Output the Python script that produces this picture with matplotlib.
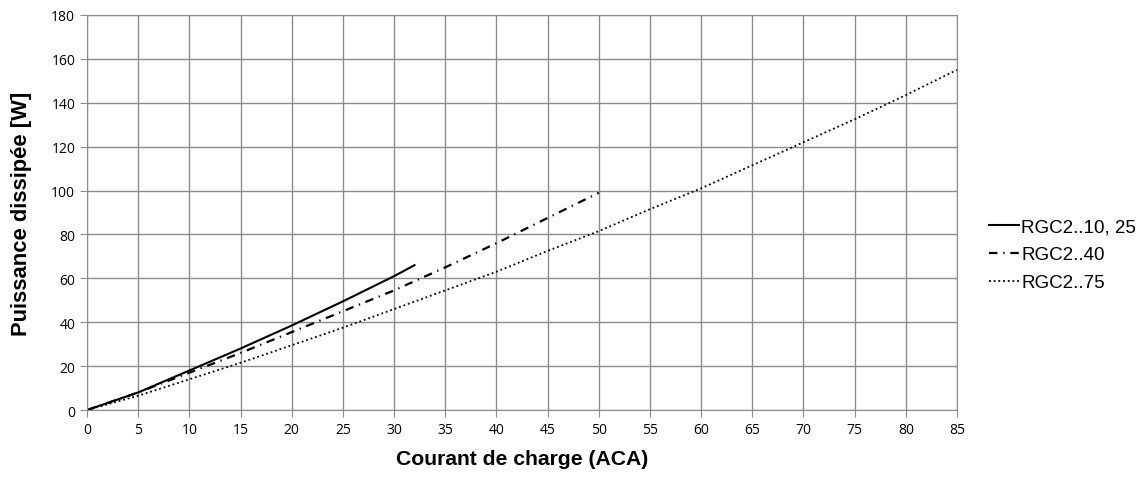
import numpy as np
import matplotlib.pyplot as plt

# values
x_10_25 = [0, 5, 10, 15, 20, 25, 30, 32]
p_10_25 = [0, 8, 18, 28, 38.5, 49.5, 61, 66]

x_40 = [0, 5, 10, 15, 20, 25, 30, 35, 40, 45, 50]
p_40 = [0, 8, 17, 26, 35.5, 45, 54.5, 65, 76, 87.5, 99]

x_75 = [0, 5, 10, 15, 20, 25, 30, 35, 40, 45, 50, 55, 60, 65, 70, 75, 80, 85]
p_75 = [0, 6.5, 14, 21.5, 29.5, 37.5, 46, 54.5, 63, 72.5, 81.5, 91.5, 101,
        111.5, 122, 132.5, 143.5, 155]

labels = ["RGC2..10, 25", "RGC2..40", "RGC2..75"]
x_ticks = np.arange(0, 90, 5)
y_ticks = np.arange(0, 200, 20)

fig = plt.figure(figsize=(11.48, 4.89), dpi=100)
ax = fig.add_axes([0.0758, 0.1595, 0.7578, 0.8078])

ax.plot(x_10_25, p_10_25, color="black", lw=1.5, ls="-", label=labels[0])
ax.plot(x_40, p_40, color="black", lw=1.6, ls=(0, (3.8, 2.6, 0.6, 2.6)),
        label=labels[1])
ax.plot(x_75, p_75, color="black", lw=1.3, ls=(0, (1, 1.6)), label=labels[2])

ax.set_xlim(0, 85)
ax.set_ylim(0, 180)
ax.set_xticks(x_ticks)
ax.set_yticks(y_ticks)
ax.grid(True, color="#8c8c8c", lw=1)
ax.set_axisbelow(True)
for s in ax.spines.values():
    s.set_color("#8c8c8c")
ax.tick_params(axis="both", colors="#8c8c8c", labelcolor="black",
               labelsize=10, length=5)
for t in ax.get_xticklabels() + ax.get_yticklabels():
    t.set_fontfamily("Open Sans")

ax.set_xlabel("Courant de charge (ACA)", fontsize=15.2, fontweight="bold",
              family="Liberation Sans", va="center")
ax.xaxis.set_label_coords(0.5, -0.124)
ax.set_ylabel("Puissance dissipée [W]", fontsize=15.8, fontweight="bold",
              family="Liberation Sans", va="center")
ax.yaxis.set_label_coords(-0.0755, 0.5)

ax.legend(loc="center left", bbox_to_anchor=(1.037, 0.393), frameon=False,
          prop={"family": "Liberation Sans", "size": 13.5},
          handlelength=1.6, handletextpad=0.1, labelspacing=0.58,
          borderpad=0, borderaxespad=0)

fig.savefig("out.png", dpi=100)
